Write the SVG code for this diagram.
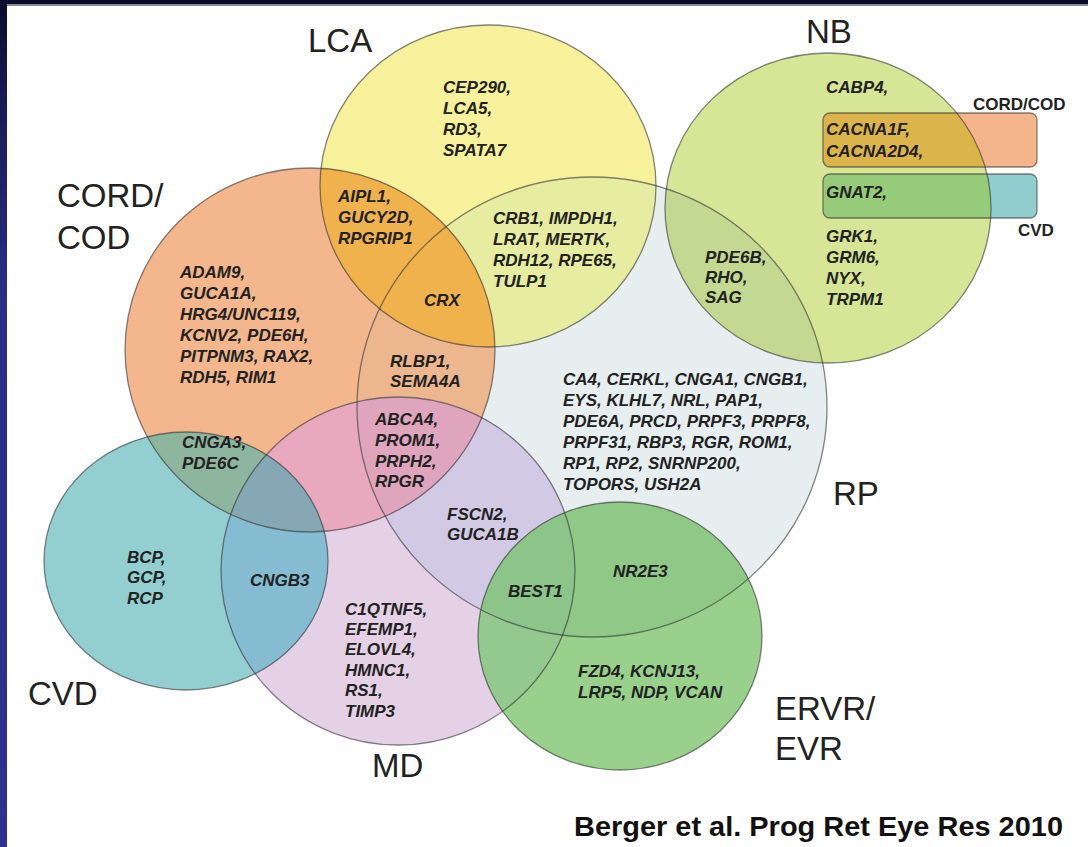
<svg xmlns="http://www.w3.org/2000/svg" width="1088" height="847" viewBox="0 0 1088 847">
<style>
.g{font-family:"Liberation Sans",Arial,sans-serif;font-weight:bold;font-style:italic;font-size:17px;fill:#222}
.big{font-family:"Liberation Sans",Arial,sans-serif;font-size:33px;fill:#222}
.sm{font-family:"Liberation Sans",Arial,sans-serif;font-weight:bold;font-size:17px;fill:#222}
.cite{font-family:"Liberation Sans",Arial,sans-serif;font-weight:bold;font-size:28px;fill:#111}
.ol{fill:none;stroke:#333;stroke-opacity:0.6;stroke-width:1.3}
</style>
<defs>
<linearGradient id="side" x1="0" y1="0" x2="0" y2="1">
<stop offset="0" stop-color="#0b0b2a"/>
<stop offset="0.12" stop-color="#181a55"/>
<stop offset="0.35" stop-color="#2a2d88"/>
<stop offset="1" stop-color="#2e3192"/>
</linearGradient>
<clipPath id="cLCA"><ellipse cx="488" cy="186" rx="168" ry="161"/></clipPath>
<clipPath id="cNB"><ellipse cx="828" cy="208" rx="163" ry="155"/></clipPath>
<clipPath id="cCORD"><ellipse cx="310" cy="350" rx="185" ry="182"/></clipPath>
<clipPath id="cRP"><ellipse cx="592" cy="407" rx="235" ry="230"/></clipPath>
<clipPath id="cMD"><ellipse cx="398" cy="571" rx="177" ry="174"/></clipPath>
<clipPath id="cCVD"><ellipse cx="186" cy="561" rx="142" ry="129"/></clipPath>
<clipPath id="cERVR"><ellipse cx="620" cy="636" rx="142" ry="134"/></clipPath>
</defs>

<g id="frame">
<rect x="0" y="0" width="1088" height="847" fill="#0b0b2a"/>
<rect x="0" y="0" width="7" height="847" fill="url(#side)"/>
<rect x="7" y="4" width="1081" height="2" fill="#8a8a92"/>
<rect x="7" y="6" width="1081" height="841" fill="#ffffff"/>
</g>

<g id="RP">
<ellipse cx="592" cy="407" rx="235" ry="230" fill="#e6eef0"/>
</g>
<g id="LCA">
<ellipse cx="488" cy="186" rx="168" ry="161" fill="#f6f19a"/>
<g clip-path="url(#cRP)"><ellipse cx="488" cy="186" rx="168" ry="161" fill="#e6eca0"/></g>
</g>
<g id="NB">
<ellipse cx="828" cy="208" rx="163" ry="155" fill="#d6e596"/>
<g clip-path="url(#cRP)"><ellipse cx="828" cy="208" rx="163" ry="155" fill="#c3d890"/></g>
</g>
<g id="CORD-COD">
<ellipse cx="310" cy="350" rx="185" ry="182" fill="#f3b68d"/>
<g clip-path="url(#cRP)"><ellipse cx="310" cy="350" rx="185" ry="182" fill="#ecb68f"/></g>
<g clip-path="url(#cLCA)"><ellipse cx="310" cy="350" rx="185" ry="182" fill="#f0b24c"/></g>
</g>
<g id="MD">
<ellipse cx="398" cy="571" rx="177" ry="174" fill="#e4d1e5"/>
<g clip-path="url(#cRP)"><ellipse cx="398" cy="571" rx="177" ry="174" fill="#d2c9e4"/></g>
<g clip-path="url(#cCORD)"><ellipse cx="398" cy="571" rx="177" ry="174" fill="#e8a9be"/></g>
<g clip-path="url(#cCORD)"><g clip-path="url(#cRP)"><ellipse cx="398" cy="571" rx="177" ry="174" fill="#dfa5bc"/></g></g>
</g>
<g id="CVD">
<ellipse cx="186" cy="561" rx="142" ry="129" fill="#93cfd0"/>
<g clip-path="url(#cCORD)"><ellipse cx="186" cy="561" rx="142" ry="129" fill="#8eb59d"/></g>
<g clip-path="url(#cMD)"><ellipse cx="186" cy="561" rx="142" ry="129" fill="#86bcd2"/></g>
<g clip-path="url(#cMD)"><g clip-path="url(#cCORD)"><ellipse cx="186" cy="561" rx="142" ry="129" fill="#86a8b5"/></g></g>
</g>
<g id="ERVR-EVR">
<ellipse cx="620" cy="636" rx="142" ry="134" fill="#98d08c"/>
<g clip-path="url(#cRP)"><ellipse cx="620" cy="636" rx="142" ry="134" fill="#90c887"/></g>
<g clip-path="url(#cMD)"><ellipse cx="620" cy="636" rx="142" ry="134" fill="#93c98f"/></g>
<g clip-path="url(#cMD)"><g clip-path="url(#cRP)"><ellipse cx="620" cy="636" rx="142" ry="134" fill="#8cc48a"/></g></g>
</g>
<g id="legend-boxes">
<rect x="823" y="113" width="214" height="54" rx="7" fill="#f4b58c"/>
<rect x="823" y="174" width="214" height="44" rx="7" fill="#92cdcd"/>
<g clip-path="url(#cNB)">
<rect x="823" y="113" width="214" height="54" rx="7" fill="#dcb44c"/>
<rect x="823" y="174" width="214" height="44" rx="7" fill="#96cb79"/>
</g>
</g>

<g id="outlines">
<ellipse class="ol" cx="592" cy="407" rx="235" ry="230"/>
<ellipse class="ol" cx="488" cy="186" rx="168" ry="161"/>
<ellipse class="ol" cx="828" cy="208" rx="163" ry="155"/>
<ellipse class="ol" cx="310" cy="350" rx="185" ry="182"/>
<ellipse class="ol" cx="398" cy="571" rx="177" ry="174"/>
<ellipse class="ol" cx="186" cy="561" rx="142" ry="129"/>
<ellipse class="ol" cx="620" cy="636" rx="142" ry="134"/>
<rect class="ol" x="823" y="113" width="214" height="54" rx="7"/>
<rect class="ol" x="823" y="174" width="214" height="44" rx="7"/>
</g>

<g id="set-labels">
<text class="big" x="308" y="52">LCA</text>
<text class="big" x="806" y="43">NB</text>
<text class="big" x="57" y="207">CORD/</text>
<text class="big" x="57" y="249">COD</text>
<text class="big" x="28" y="705">CVD</text>
<text class="big" x="372" y="777">MD</text>
<text class="big" x="833" y="505">RP</text>
<text class="big" x="775" y="720">ERVR/</text>
<text class="big" x="775" y="760">EVR</text>
<text class="sm" x="973" y="110">CORD/COD</text>
<text class="sm" x="1018" y="236">CVD</text>
</g>

<g id="genes">
<text class="g" x="443" y="93">CEP290,</text>
<text class="g" x="443" y="114">LCA5,</text>
<text class="g" x="443" y="135">RD3,</text>
<text class="g" x="443" y="156">SPATA7</text>

<text class="g" x="338" y="202">AIPL1,</text>
<text class="g" x="338" y="223">GUCY2D,</text>
<text class="g" x="338" y="244">RPGRIP1</text>

<text class="g" x="493" y="224">CRB1, IMPDH1,</text>
<text class="g" x="493" y="245">LRAT, MERTK,</text>
<text class="g" x="493" y="266">RDH12, RPE65,</text>
<text class="g" x="493" y="287">TULP1</text>

<text class="g" x="424" y="306">CRX</text>

<text class="g" x="826" y="93">CABP4,</text>
<text class="g" x="826" y="135">CACNA1F,</text>
<text class="g" x="826" y="157">CACNA2D4,</text>
<text class="g" x="826" y="198">GNAT2,</text>
<text class="g" x="826" y="242">GRK1,</text>
<text class="g" x="826" y="263">GRM6,</text>
<text class="g" x="826" y="284">NYX,</text>
<text class="g" x="826" y="305">TRPM1</text>

<text class="g" x="705" y="263">PDE6B,</text>
<text class="g" x="705" y="283">RHO,</text>
<text class="g" x="705" y="303">SAG</text>

<text class="g" x="180" y="278">ADAM9,</text>
<text class="g" x="180" y="299">GUCA1A,</text>
<text class="g" x="180" y="320">HRG4/UNC119,</text>
<text class="g" x="180" y="341">KCNV2, PDE6H,</text>
<text class="g" x="180" y="362">PITPNM3, RAX2,</text>
<text class="g" x="180" y="383">RDH5, RIM1</text>

<text class="g" x="182" y="448">CNGA3,</text>
<text class="g" x="182" y="469">PDE6C</text>

<text class="g" x="390" y="367">RLBP1,</text>
<text class="g" x="390" y="387">SEMA4A</text>

<text class="g" x="375" y="425">ABCA4,</text>
<text class="g" x="375" y="446">PROM1,</text>
<text class="g" x="375" y="467">PRPH2,</text>
<text class="g" x="375" y="487">RPGR</text>

<text class="g" x="447" y="520">FSCN2,</text>
<text class="g" x="447" y="540">GUCA1B</text>

<text class="g" x="563" y="385">CA4, CERKL, CNGA1, CNGB1,</text>
<text class="g" x="563" y="406">EYS, KLHL7, NRL, PAP1,</text>
<text class="g" x="563" y="427">PDE6A, PRCD, PRPF3, PRPF8,</text>
<text class="g" x="563" y="448">PRPF31, RBP3, RGR, ROM1,</text>
<text class="g" x="563" y="469">RP1, RP2, SNRNP200,</text>
<text class="g" x="563" y="490">TOPORS, USH2A</text>

<text class="g" x="508" y="597">BEST1</text>
<text class="g" x="613" y="577">NR2E3</text>

<text class="g" x="127" y="563">BCP,</text>
<text class="g" x="127" y="583">GCP,</text>
<text class="g" x="127" y="604">RCP</text>

<text class="g" x="250" y="586">CNGB3</text>

<text class="g" x="345" y="615">C1QTNF5,</text>
<text class="g" x="345" y="635">EFEMP1,</text>
<text class="g" x="345" y="655">ELOVL4,</text>
<text class="g" x="345" y="676">HMNC1,</text>
<text class="g" x="345" y="696">RS1,</text>
<text class="g" x="345" y="717">TIMP3</text>

<text class="g" x="578" y="677">FZD4, KCNJ13,</text>
<text class="g" x="578" y="698">LRP5, NDP, VCAN</text>
</g>

<g id="citation">
<text class="cite" x="574" y="836" textLength="489" lengthAdjust="spacingAndGlyphs">Berger et al. Prog Ret Eye Res 2010</text>
</g>
</svg>
